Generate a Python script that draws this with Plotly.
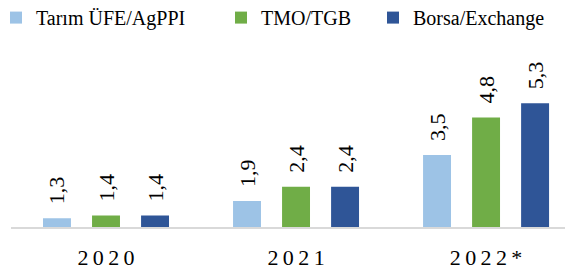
import plotly.graph_objects as go

categories = ["2020", "2021", "2022*"]
series_names = ["Tarım ÜFE/AgPPI", "TMO/TGB", "Borsa/Exchange"]
ufe = [1.3, 1.9, 3.5]
tmo = [1.4, 2.4, 4.8]
borsa = [1.4, 2.4, 5.3]
colors = ["#9DC3E6", "#70AD47", "#2F5597"]
legend_widths = [180, 107, 0]

FONT = "Liberation Serif, Times New Roman, Times, serif"
THIN = "\u2009"
ticktext = [THIN.join(c) for c in categories]

W, H = 565, 263  # page has an 8px body margin
fig = go.Figure()
for name, vals, col, lw in zip(series_names, [ufe, tmo, borsa], colors, legend_widths):
    fig.add_trace(go.Bar(
        x=categories, y=vals, name=name, marker=dict(color=col, line=dict(width=0)),
        texttemplate="\u00a0\u00a0%{y:.1f}",
        textposition="outside", textangle=-90, constraintext="none",
        cliponaxis=False,
        textfont=dict(family=FONT, size=22, color="black"),
        legendwidth=lw,
    ))

fig.update_layout(
    width=W, height=H,
    margin=dict(l=0, r=0, t=22, b=44, autoexpand=False),
    paper_bgcolor="white", plot_bgcolor="white",
    separators=",.",
    barmode="group", bargap=0.226, bargroupgap=0.43,
    font=dict(family=FONT, color="black"),
    showlegend=True,
    legend=dict(orientation="h", x=-12 / W, xanchor="left", y=1.063, yanchor="middle",
                font=dict(family=FONT, size=20, color="black"),
                entrywidthmode="pixels", traceorder="normal"),
    xaxis=dict(type="category", domain=[3 / W, 563 / W], range=[-0.5, 2.447],
               tickvals=categories, ticktext=ticktext, automargin=False,
               showline=True, linecolor="#D9D9D9", linewidth=2, ticks="",
               ticklabelstandoff=10,
               showgrid=False, tickfont=dict(family=FONT, size=22, color="black")),
    yaxis=dict(range=[1, 7.84], visible=False, showgrid=False, zeroline=False),
)

fig.write_html("out.html")
